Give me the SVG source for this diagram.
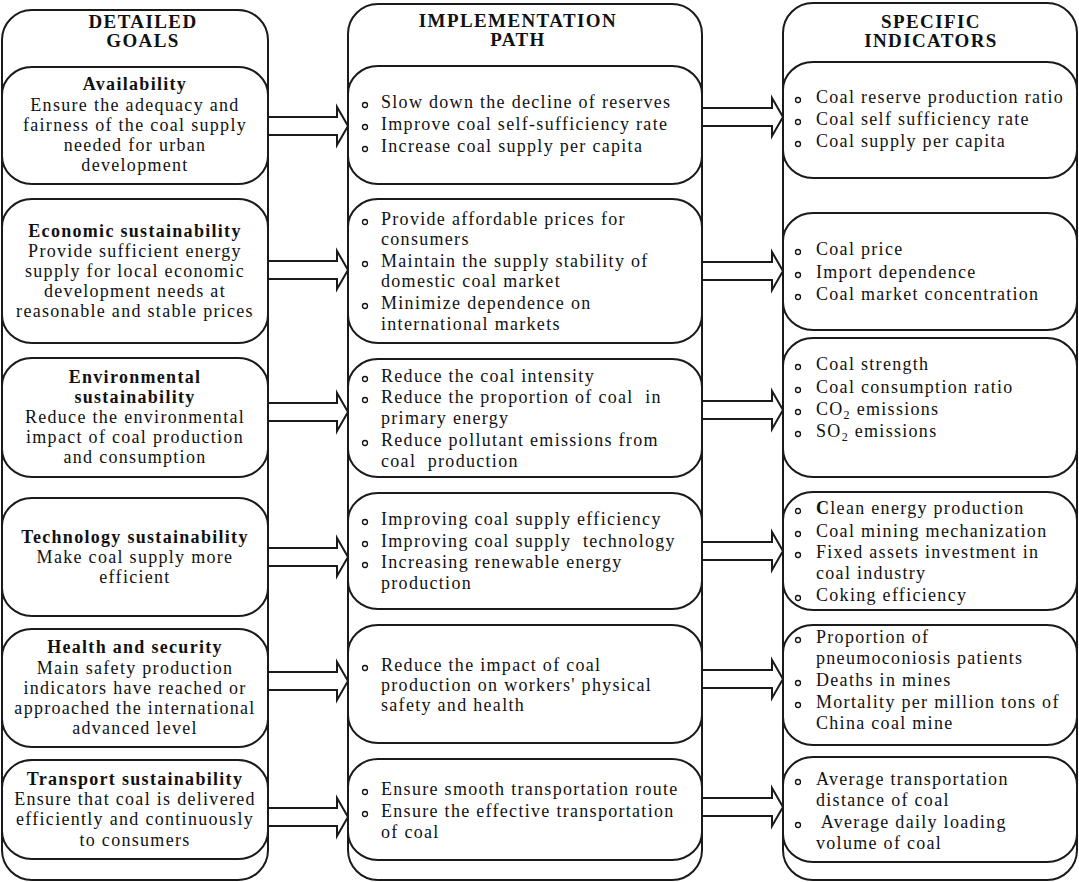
<svg xmlns="http://www.w3.org/2000/svg" width="1079" height="882" viewBox="0 0 1079 882">
<style>
.box{fill:#fff;stroke:#1a1a1a;stroke-width:2}
.arrow{fill:#fff;stroke:#1a1a1a;stroke-width:2;stroke-linejoin:miter}
text{font-family:"Liberation Serif","Times New Roman",serif;font-size:18px;letter-spacing:1.3px;fill:#111}
.h{font-weight:bold;font-size:19px;letter-spacing:1.4px;text-anchor:middle}
.b{font-weight:bold}
.c{text-anchor:middle}
.bl{fill:#fff;stroke:#111;stroke-width:1.3}
</style>
<rect width="1079" height="882" fill="#fff"/>
<g id="col-goals">
<rect class="box" x="2" y="10" width="266" height="870" rx="30" ry="30"/>
<text class="h" x="143" y="28">DETAILED</text>
<text class="h" x="143" y="47">GOALS</text>
</g>
<g id="col-path">
<rect class="box" x="348" y="4" width="354" height="876" rx="30" ry="30"/>
<text class="h" x="518" y="27">IMPLEMENTATION</text>
<text class="h" x="518" y="46">PATH</text>
</g>
<g id="col-indicators">
<rect class="box" x="783" y="3" width="294" height="877" rx="30" ry="30"/>
<text class="h" x="931" y="28">SPECIFIC</text>
<text class="h" x="931" y="47">INDICATORS</text>
</g>

<g id="goal-availability">
<rect class="box" x="2" y="67" width="266" height="117" rx="30" ry="28"/>
<text class="c" x="135"><tspan class="b" x="135" y="90">Availability</tspan><tspan x="135" y="111">Ensure the adequacy and</tspan><tspan x="135" y="131">fairness of the coal supply</tspan><tspan x="135" y="151">needed for urban</tspan><tspan x="135" y="171">development</tspan></text>
</g>
<g id="goal-economic">
<rect class="box" x="2" y="199" width="266" height="144" rx="30" ry="28"/>
<text class="c" x="135"><tspan class="b" x="135" y="237">Economic sustainability</tspan><tspan x="135" y="257">Provide sufficient energy</tspan><tspan x="135" y="277">supply for local economic</tspan><tspan x="135" y="297">development needs at</tspan><tspan x="135" y="317">reasonable and stable prices</tspan></text>
</g>
<g id="goal-environmental">
<rect class="box" x="2" y="358" width="266" height="119" rx="30" ry="28"/>
<text class="c" x="135"><tspan class="b" x="135" y="383">Environmental</tspan><tspan class="b" x="135" y="403">sustainability</tspan><tspan x="135" y="423">Reduce the environmental</tspan><tspan x="135" y="443">impact of coal production</tspan><tspan x="135" y="463">and consumption</tspan></text>
</g>
<g id="goal-technology">
<rect class="box" x="2" y="498" width="266" height="118" rx="30" ry="28"/>
<text class="c" x="135"><tspan class="b" x="135" y="543">Technology sustainability</tspan><tspan x="135" y="563">Make coal supply more</tspan><tspan x="135" y="583">efficient</tspan></text>
</g>
<g id="goal-health">
<rect class="box" x="2" y="629" width="266" height="118" rx="30" ry="28"/>
<text class="c" x="135"><tspan class="b" x="135" y="653">Health and security</tspan><tspan x="135" y="674">Main safety production</tspan><tspan x="135" y="694">indicators have reached or</tspan><tspan x="135" y="714">approached the international</tspan><tspan x="135" y="734">advanced level</tspan></text>
</g>
<g id="goal-transport">
<rect class="box" x="2" y="760" width="266" height="99" rx="30" ry="28"/>
<text class="c" x="135"><tspan class="b" x="135" y="785">Transport sustainability</tspan><tspan x="135" y="805">Ensure that coal is delivered</tspan><tspan x="135" y="825">efficiently and continuously</tspan><tspan x="135" y="846">to consumers</tspan></text>
</g>

<g id="path-availability">
<rect class="box" x="348" y="66" width="354" height="118" rx="30" ry="28"/>
<circle class="bl" cx="365" cy="105" r="2.5"/><circle class="bl" cx="365" cy="127" r="2.5"/><circle class="bl" cx="365" cy="149" r="2.5"/>
<text x="381"><tspan x="381" y="108">Slow down the decline of reserves</tspan><tspan x="381" y="130">Improve coal self-sufficiency rate</tspan><tspan x="381" y="152">Increase coal supply per capita</tspan></text>
</g>
<g id="path-economic">
<rect class="box" x="348" y="199" width="354" height="144" rx="30" ry="28"/>
<circle class="bl" cx="365" cy="222" r="2.5"/><circle class="bl" cx="365" cy="264" r="2.5"/><circle class="bl" cx="365" cy="306" r="2.5"/>
<text x="381"><tspan x="381" y="225">Provide affordable prices for</tspan><tspan x="381" y="245">consumers</tspan><tspan x="381" y="267">Maintain the supply stability of</tspan><tspan x="381" y="287">domestic coal market</tspan><tspan x="381" y="309">Minimize dependence on</tspan><tspan x="381" y="330">international markets</tspan></text>
</g>
<g id="path-environmental">
<rect class="box" x="348" y="359" width="354" height="118" rx="30" ry="28"/>
<circle class="bl" cx="365" cy="379" r="2.5"/><circle class="bl" cx="365" cy="400" r="2.5"/><circle class="bl" cx="365" cy="443" r="2.5"/>
<text x="381" xml:space="preserve"><tspan x="381" y="382">Reduce the coal intensity</tspan><tspan x="381" y="403">Reduce the proportion of coal  in</tspan><tspan x="381" y="424">primary energy</tspan><tspan x="381" y="446">Reduce pollutant emissions from</tspan><tspan x="381" y="467">coal  production</tspan></text>
</g>
<g id="path-technology">
<rect class="box" x="348" y="493" width="354" height="116" rx="30" ry="28"/>
<circle class="bl" cx="365" cy="522" r="2.5"/><circle class="bl" cx="365" cy="544" r="2.5"/><circle class="bl" cx="365" cy="565" r="2.5"/>
<text x="381" xml:space="preserve"><tspan x="381" y="525">Improving coal supply efficiency</tspan><tspan x="381" y="547">Improving coal supply  technology</tspan><tspan x="381" y="568">Increasing renewable energy</tspan><tspan x="381" y="589">production</tspan></text>
</g>
<g id="path-health">
<rect class="box" x="348" y="625" width="354" height="118" rx="30" ry="28"/>
<circle class="bl" cx="365" cy="668" r="2.5"/>
<text x="381"><tspan x="381" y="671">Reduce the impact of coal</tspan><tspan x="381" y="691">production on workers' physical</tspan><tspan x="381" y="711">safety and health</tspan></text>
</g>
<g id="path-transport">
<rect class="box" x="348" y="759" width="354" height="101" rx="30" ry="28"/>
<circle class="bl" cx="365" cy="792" r="2.5"/><circle class="bl" cx="365" cy="814" r="2.5"/>
<text x="381"><tspan x="381" y="795">Ensure smooth transportation route</tspan><tspan x="381" y="817">Ensure the effective transportation</tspan><tspan x="381" y="838">of coal</tspan></text>
</g>

<g id="ind-availability">
<rect class="box" x="783" y="62" width="294" height="116" rx="30" ry="28"/>
<circle class="bl" cx="798" cy="100" r="2.5"/><circle class="bl" cx="798" cy="122" r="2.5"/><circle class="bl" cx="798" cy="144" r="2.5"/>
<text x="816"><tspan x="816" y="103">Coal reserve production ratio</tspan><tspan x="816" y="125">Coal self sufficiency rate</tspan><tspan x="816" y="147">Coal supply per capita</tspan></text>
</g>
<g id="ind-economic">
<rect class="box" x="783" y="213" width="294" height="117" rx="30" ry="28"/>
<circle class="bl" cx="798" cy="252" r="2.5"/><circle class="bl" cx="798" cy="275" r="2.5"/><circle class="bl" cx="798" cy="297" r="2.5"/>
<text x="816"><tspan x="816" y="255">Coal price</tspan><tspan x="816" y="278">Import dependence</tspan><tspan x="816" y="300">Coal market concentration</tspan></text>
</g>
<g id="ind-environmental">
<rect class="box" x="783" y="338" width="294" height="139" rx="30" ry="28"/>
<circle class="bl" cx="798" cy="367" r="2.5"/><circle class="bl" cx="798" cy="390" r="2.5"/><circle class="bl" cx="798" cy="412" r="2.5"/><circle class="bl" cx="798" cy="434" r="2.5"/>
<text x="816" y="370">Coal strength</text>
<text x="816" y="393">Coal consumption ratio</text>
<text x="816" y="415">CO<tspan font-size="12" dy="4">2</tspan><tspan dy="-4"> emissions</tspan></text>
<text x="816" y="437">SO<tspan font-size="12" dy="4">2</tspan><tspan dy="-4"> emissions</tspan></text>
</g>
<g id="ind-technology">
<rect class="box" x="783" y="492" width="294" height="118" rx="30" ry="28"/>
<circle class="bl" cx="798" cy="511" r="2.5"/><circle class="bl" cx="798" cy="534" r="2.5"/><circle class="bl" cx="798" cy="555" r="2.5"/><circle class="bl" cx="798" cy="598" r="2.5"/>
<text x="816"><tspan x="816" y="514"><tspan class="b">C</tspan>lean energy production</tspan><tspan x="816" y="537">Coal mining mechanization</tspan><tspan x="816" y="558">Fixed assets investment in</tspan><tspan x="816" y="579">coal industry</tspan><tspan x="816" y="601">Coking efficiency</tspan></text>
</g>
<g id="ind-health">
<rect class="box" x="783" y="625" width="294" height="120" rx="30" ry="28"/>
<circle class="bl" cx="798" cy="640" r="2.5"/><circle class="bl" cx="798" cy="683" r="2.5"/><circle class="bl" cx="798" cy="705" r="2.5"/>
<text x="816"><tspan x="816" y="643">Proportion of</tspan><tspan x="816" y="664">pneumoconiosis patients</tspan><tspan x="816" y="686">Deaths in mines</tspan><tspan x="816" y="708">Mortality per million tons of</tspan><tspan x="816" y="729">China coal mine</tspan></text>
</g>
<g id="ind-transport">
<rect class="box" x="783" y="757" width="294" height="105" rx="30" ry="28"/>
<circle class="bl" cx="798" cy="782" r="2.5"/><circle class="bl" cx="798" cy="825" r="2.5"/>
<text x="816"><tspan x="816" y="785">Average transportation</tspan><tspan x="816" y="806">distance of coal</tspan><tspan x="816" y="828" xml:space="preserve"> Average daily loading</tspan><tspan x="816" y="849">volume of coal</tspan></text>
</g>

<g id="connectors">
<path class="arrow" d="M269,117 L337,117 L337,107 L348,126 L337,145 L337,135 L269,135"/>
<path class="arrow" d="M269,261 L337,261 L337,251 L348,270 L337,289 L337,279 L269,279"/>
<path class="arrow" d="M269,403 L337,403 L337,393 L348,412 L337,431 L337,421 L269,421"/>
<path class="arrow" d="M269,548 L337,548 L337,538 L348,557 L337,576 L337,566 L269,566"/>
<path class="arrow" d="M269,672 L337,672 L337,662 L348,681 L337,700 L337,690 L269,690"/>
<path class="arrow" d="M269,808 L337,808 L337,798 L348,817 L337,836 L337,826 L269,826"/>
<path class="arrow" d="M703,108 L772,108 L772,98 L783,117 L772,136 L772,126 L703,126"/>
<path class="arrow" d="M703,262 L772,262 L772,252 L783,271 L772,290 L772,280 L703,280"/>
<path class="arrow" d="M703,401 L772,401 L772,391 L783,410 L772,429 L772,419 L703,419"/>
<path class="arrow" d="M703,542 L772,542 L772,532 L783,551 L772,570 L772,560 L703,560"/>
<path class="arrow" d="M703,670 L772,670 L772,660 L783,679 L772,698 L772,688 L703,688"/>
<path class="arrow" d="M703,798 L772,798 L772,788 L783,807 L772,826 L772,816 L703,816"/>
</g>
</svg>
